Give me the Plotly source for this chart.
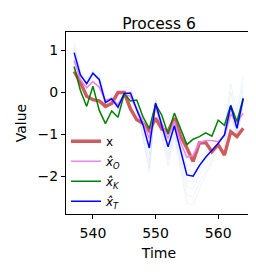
import plotly.graph_objects as go

time = list(range(537, 565))

x_true = [0.49, 0.23, -0.10, -0.18, -0.21, -0.34, -0.27, -0.01, -0.01, -0.40, -0.66, -0.74, -0.92,
          -0.62, -0.88, -0.93, -0.62, -1.06, -1.33, -1.65, -1.21, -1.20, -1.42, -1.25, -1.50, -0.94,
          -1.06, -0.86]
x_hat_O = [0.75, 0.30, 0.10, 0.25, 0.12, -0.20, -0.15, -0.30, -0.05, -0.10, -0.40, -0.70, -1.10,
           -0.35, -0.75, -1.10, -0.70, -1.20, -1.55, -1.50, -1.20, -1.15, -1.15, -1.18, -1.03, -0.52,
           -0.72, -0.50]
x_hat_K = [0.61, 0.04, -0.34, 0.14, -0.43, -0.75, -0.45, -0.60, -0.04, -0.21, -0.19, -0.59, -0.87,
           -0.29, -0.55, -1.00, -0.50, -0.90, -1.25, -1.12, -1.06, -0.97, -1.05, -0.67, -0.79, -0.31,
           -0.70, -0.14]
x_hat_T = [0.94, 0.41, 0.20, 0.45, 0.30, -0.25, -0.16, -0.36, -0.03, -0.02, -0.42, -0.78, -1.33,
           -0.26, -0.80, -1.30, -0.80, -1.40, -1.97, -2.00, -1.75, -1.55, -1.38, -1.22, -1.02, -0.33,
           -0.86, -0.16]

samples_1 = [1.20, 0.55, 0.30, 0.55, 0.45, -0.10, -0.05, -0.20, 0.12, 0.10, -0.30, -0.60, -1.00, -0.15,
             -0.65, -1.10, -0.65, -1.20, -1.75, -1.75, -1.55, -1.40, -1.25, -1.05, -0.85, 0.20, -0.45, 0.40]
samples_2 = [1.05, 0.48, 0.25, 0.50, 0.38, -0.18, -0.10, -0.28, 0.05, 0.05, -0.36, -0.70, -1.20, -0.20,
             -0.72, -1.20, -0.72, -1.30, -1.85, -1.88, -1.65, -1.48, -1.32, -1.15, -0.95, 0.00, -0.62, 0.20]
samples_3 = [0.85, 0.36, 0.15, 0.40, 0.25, -0.30, -0.22, -0.42, -0.08, -0.08, -0.48, -0.88, -1.50, -0.32,
             -0.88, -1.40, -0.88, -1.50, -2.10, -2.15, -1.85, -1.62, -1.45, -1.30, -1.10, -0.42, -0.95, -0.25]
samples_4 = [0.80, 0.32, 0.10, 0.36, 0.20, -0.35, -0.26, -0.48, -0.12, -0.12, -0.54, -0.95, -1.65, -0.38,
             -0.95, -1.50, -0.95, -1.60, -2.25, -2.30, -1.98, -1.72, -1.52, -1.36, -1.18, -0.52, -1.02, -0.32]
samples_5 = [0.90, 0.38, 0.18, 0.42, 0.28, -0.28, -0.18, -0.38, -0.05, -0.04, -0.45, -1.05, -1.80, -0.30,
             -1.02, -1.62, -1.00, -1.70, -2.45, -2.50, -2.15, -1.85, -1.60, -1.42, -1.25, -0.60, -1.05, -0.40]
samples_6 = [1.10, 0.44, 0.22, 0.48, 0.33, -0.22, -0.14, -0.34, 0.00, 0.00, -0.40, -1.10, -1.90, -0.28,
             -1.08, -1.75, -1.05, -1.82, -2.65, -2.68, -2.30, -1.95, -1.68, -1.50, -1.30, -0.45, -0.98, 0.05]
samples = [samples_1, samples_2, samples_3, samples_4, samples_5, samples_6]

x_ticks = [540, 550, 560]
y_ticks = [-2, -1, 0, 1]

FONT = "DejaVu Sans"

fig = go.Figure()
for s in samples:
    fig.add_trace(go.Scatter(x=time, y=s, mode="lines", showlegend=False, hoverinfo="skip",
                             line=dict(color="rgba(110,150,225,0.15)", width=0.8)))

fig.add_trace(go.Scatter(x=time, y=x_true, mode="lines", name="x", legendgroup="g1",
                         line=dict(color="#cd5c5c", width=3.4)))
fig.add_trace(go.Scatter(x=time, y=x_hat_O, mode="lines", name="<i>x̂</i><sub><i>O</i></sub>",
                         legendgroup="g2", line=dict(color="#ee82ee", width=1.5)))
fig.add_trace(go.Scatter(x=time, y=x_hat_K, mode="lines", name="<i>x̂</i><sub><i>K</i></sub>",
                         legendgroup="g3", line=dict(color="#008000", width=1.5)))
fig.add_trace(go.Scatter(x=time, y=x_hat_T, mode="lines", name="<i>x̂</i><sub><i>T</i></sub>",
                         legendgroup="g4", line=dict(color="#0000ff", width=1.5)))

axis_common = dict(showline=True, linecolor="black", linewidth=1, mirror=True, ticks="outside",
                   ticklen=4, tickwidth=1, tickcolor="black", showgrid=False, zeroline=False,
                   automargin=False,
                   tickfont=dict(family=FONT, size=14, color="black"))

fig.update_layout(
    width=256, height=272,
    margin=dict(l=58, r=12, t=24, b=66, autoexpand=False),
    paper_bgcolor="white", plot_bgcolor="white",
    title=dict(text="Process 6", xref="paper", x=0.5, xanchor="center", y=1 - 16 / 272,
               yanchor="middle", font=dict(family=FONT, size=15.5, color="black")),
    xaxis=dict(range=[535.7, 565.4], tickvals=x_ticks, ticklabelstandoff=2,
               title=dict(text="Time", font=dict(family=FONT, size=14, color="black"), standoff=8),
               **axis_common),
    yaxis=dict(range=[-2.9, 1.43], tickvals=y_ticks,
               title=dict(text="Value", font=dict(family=FONT, size=14, color="black"), standoff=7),
               **axis_common),
    legend=dict(x=0.0, y=-0.01, xanchor="left", yanchor="bottom", bgcolor="rgba(0,0,0,0)",
                font=dict(family=FONT, size=12, color="black"), tracegroupgap=1,
                itemwidth=30),
    showlegend=True,
)

fig.write_html("out.html")
